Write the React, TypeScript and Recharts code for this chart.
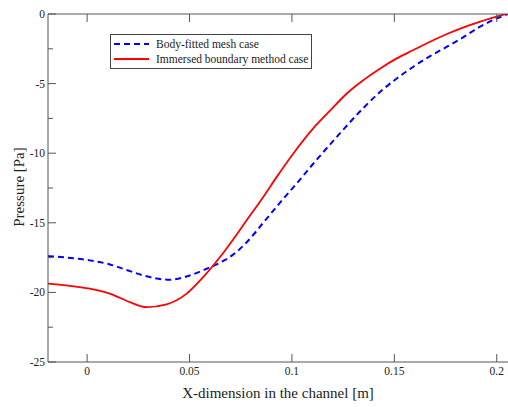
import React from 'react';
import { LineChart, Line, XAxis, YAxis } from 'recharts';

// x position along the channel [m], pressure [Pa]
const bodyX = [-0.0191, -0.01, 0.0013, 0.0111, 0.0209, 0.0306, 0.0404, 0.0502, 0.0584, 0.0649, 0.0698, 0.0779, 0.086, 0.0942, 0.1023, 0.1105, 0.1219, 0.1349, 0.1431, 0.1512, 0.1593, 0.1675, 0.1757, 0.1822, 0.1919, 0.2001, 0.2055];
const bodyP = [-17.39, -17.5, -17.7, -17.99, -18.47, -18.9, -19.09, -18.78, -18.3, -17.86, -17.45, -16.4, -15.0, -13.55, -12.18, -10.74, -8.83, -6.75, -5.59, -4.63, -3.79, -3.02, -2.35, -1.8, -0.91, -0.31, 0];

const ibmX = [-0.0191, -0.01, 0.0013, 0.0111, 0.0209, 0.029, 0.0388, 0.0486, 0.0567, 0.0649, 0.0698, 0.0779, 0.086, 0.0926, 0.1007, 0.1105, 0.1186, 0.1268, 0.1349, 0.1431, 0.1512, 0.1593, 0.1675, 0.1757, 0.1822, 0.1919, 0.2055];
const ibmP = [-19.37, -19.5, -19.73, -20.09, -20.7, -21.06, -20.86, -20.09, -18.9, -17.46, -16.5, -14.82, -13.14, -11.7, -10.02, -8.2, -6.95, -5.71, -4.75, -3.91, -3.19, -2.59, -1.99, -1.44, -1.05, -0.55, 0.05];

const xTicks = [0, 0.05, 0.1, 0.15, 0.2];
const yTicks = [0, -2.5, -5, -7.5, -10, -12.5, -15, -17.5, -20, -22.5, -25];

const bodyData = bodyX.map((x, i) => ({ x, p: bodyP[i] }));
const ibmData = ibmX.map((x, i) => ({ x, p: ibmP[i] }));

const AXIS = '#555';
const FONT = "'Liberation Serif', 'Times New Roman', serif";

const isMajor = (v: number) => Math.abs(v % 5) < 1e-9;

const BottomTick = ({ x, y, payload }: any) => (
  <g>
    <line x1={x} y1={y} x2={x} y2={y - 8} stroke={AXIS} />
    <text x={x} y={y + 13} textAnchor="middle" fontSize={11.5} fontFamily={FONT} fill="#222">
      {String(payload.value)}
    </text>
  </g>
);

const TopTick = ({ x, y }: any) => <line x1={x} y1={y} x2={x} y2={y + 8} stroke={AXIS} />;

const LeftTick = ({ x, y, payload }: any) => {
  const major = isMajor(payload.value);
  return (
    <g>
      <line x1={x} y1={y} x2={x + (major ? 8 : 5)} y2={y} stroke={AXIS} />
      {major && (
        <text x={x - 3} y={y + 4} textAnchor="end" fontSize={11.5} fontFamily={FONT} fill="#222">
          {String(payload.value)}
        </text>
      )}
    </g>
  );
};

const RightTick = ({ x, y, payload }: any) => {
  const major = isMajor(payload.value);
  return <line x1={x} y1={y} x2={x - (major ? 11 : 5)} y2={y} stroke={AXIS} />;
};

function LegendBox() {
  return (
    <div
      style={{
        position: 'absolute',
        left: 110,
        top: 34,
        border: '1px solid #444',
        background: '#fff',
        width: 202,
        height: 35,
        boxSizing: 'border-box',
        fontFamily: FONT,
        fontSize: 11.5,
        color: '#222',
      }}
    >
      <svg width={42} height={33} style={{ position: 'absolute', left: 0, top: 0 }}>
        <line x1={3} y1={9} x2={38} y2={9} stroke="#0000ff" strokeWidth={2} strokeDasharray="6 4" />
        <line x1={3} y1={24} x2={38} y2={24} stroke="#ff0000" strokeWidth={1.8} />
      </svg>
      <div style={{ position: 'absolute', left: 45, top: 1, lineHeight: '16px', whiteSpace: 'nowrap' }}>Body-fitted mesh case</div>
      <div style={{ position: 'absolute', left: 45, top: 16, lineHeight: '16px', whiteSpace: 'nowrap' }}>Immersed boundary method case</div>
    </div>
  );
}

export default function App() {
  return (
    <div style={{ position: 'absolute', left: 0, top: 0, width: 508, height: 407, background: '#fff', overflow: 'hidden' }}>
      <LineChart width={508} height={407} margin={{ top: 0, right: 0, bottom: 0, left: 0 }}>
        <XAxis
          xAxisId="b"
          dataKey="x"
          type="number"
          domain={[-0.0191, 0.2055]}
          ticks={xTicks}
          allowDataOverflow
          height={45}
          tickSize={0}
          tickMargin={0}
          stroke={AXIS}
          tick={<BottomTick />}
        />
        <XAxis
          xAxisId="t"
          orientation="top"
          dataKey="x"
          type="number"
          domain={[-0.0191, 0.2055]}
          ticks={xTicks}
          allowDataOverflow
          height={14}
          tickSize={0}
          tickMargin={0}
          stroke={AXIS}
          tick={<TopTick />}
        />
        <YAxis
          yAxisId="l"
          type="number"
          domain={[-25, 0]}
          ticks={yTicks}
          allowDataOverflow
          width={48}
          tickSize={0}
          tickMargin={0}
          stroke={AXIS}
          tick={<LeftTick />}
        />
        <YAxis
          yAxisId="r"
          orientation="right"
          type="number"
          domain={[-25, 0]}
          ticks={yTicks}
          allowDataOverflow
          width={0}
          tickSize={0}
          tickMargin={0}
          stroke={AXIS}
          tick={<RightTick />}
        />
        <Line
          xAxisId="b"
          yAxisId="l"
          data={bodyData}
          dataKey="p"
          type="monotone"
          stroke="#0000ff"
          strokeWidth={2}
          strokeDasharray="6 4"
          dot={false}
          isAnimationActive={false}
        />
        <Line
          xAxisId="b"
          yAxisId="l"
          data={ibmData}
          dataKey="p"
          type="monotone"
          stroke="#ff0000"
          strokeWidth={1.8}
          dot={false}
          isAnimationActive={false}
        />
      </LineChart>
      <LegendBox />
      <div
        style={{
          position: 'absolute',
          left: 48,
          width: 460,
          top: 385,
          textAlign: 'center',
          fontFamily: FONT,
          fontSize: 15,
          color: '#222',
          whiteSpace: 'nowrap',
        }}
      >
        X-dimension in the channel [m]
      </div>
      <div
        style={{
          position: 'absolute',
          left: 19,
          top: 187,
          transform: 'translate(-50%, -50%) rotate(-90deg)',
          fontFamily: FONT,
          fontSize: 15,
          color: '#222',
          whiteSpace: 'nowrap',
        }}
      >
        Pressure [Pa]
      </div>
    </div>
  );
}
